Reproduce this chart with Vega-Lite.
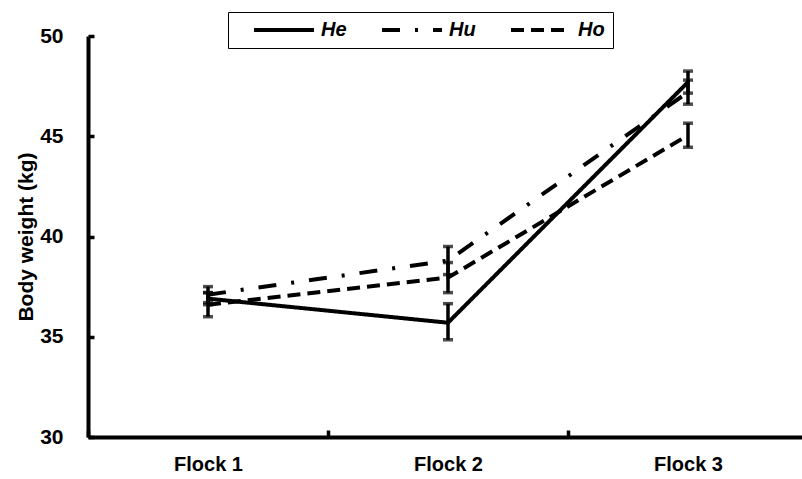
{
  "$schema": "https://vega.github.io/schema/vega-lite/v6.json",
  "width": 720,
  "height": 401,
  "autosize": {"type": "none"},
  "padding": {"left": 88, "top": 36, "right": 0, "bottom": 42},
  "background": "white",
  "config": {"view": {"stroke": null}, "font": "Liberation Sans"},
  "data": {
    "values": [
      {"flock": "Flock 1", "group": "He", "mean": 36.9, "lo": 36.6, "hi": 37.2},
      {"flock": "Flock 2", "group": "He", "mean": 35.7, "lo": 34.85, "hi": 36.65},
      {"flock": "Flock 3", "group": "He", "mean": 47.7, "lo": 47.15, "hi": 48.25},
      {"flock": "Flock 1", "group": "Hu", "mean": 37.1, "lo": 36.7, "hi": 37.5},
      {"flock": "Flock 2", "group": "Hu", "mean": 38.8, "lo": 38.1, "hi": 39.5},
      {"flock": "Flock 3", "group": "Hu", "mean": 47.2, "lo": 46.6, "hi": 47.8},
      {"flock": "Flock 1", "group": "Ho", "mean": 36.6, "lo": 36.0, "hi": 37.2},
      {"flock": "Flock 2", "group": "Ho", "mean": 37.95, "lo": 37.2, "hi": 38.7},
      {"flock": "Flock 3", "group": "Ho", "mean": 45.05, "lo": 44.45, "hi": 45.65}
    ]
  },
  "encoding": {
    "x": {
      "field": "flock",
      "type": "nominal",
      "sort": ["Flock 1", "Flock 2", "Flock 3"],
      "scale": {"paddingInner": 0, "paddingOuter": 0},
      "axis": {
        "title": null,
        "labelAngle": 0,
        "labelFontSize": 20,
        "labelFontWeight": "bold",
        "labelColor": "black",
        "labelPadding": 24,
        "tickBand": "extent",
        "tickSize": -7,
        "tickWidth": 3.5,
        "tickColor": "black",
        "domainColor": "black",
        "domainWidth": 4
      }
    }
  },
  "layer": [
    {
      "mark": {"type": "line", "color": "black", "strokeWidth": 4},
      "encoding": {
        "y": {
          "field": "mean",
          "type": "quantitative",
          "scale": {"domain": [30, 50], "nice": false, "zero": false},
          "axis": {
            "values": [30, 35, 40, 45, 50],
            "title": "Body weight (kg)",
            "titleFontSize": 21,
            "titleFontWeight": "bold",
            "titleColor": "black",
            "titlePadding": 3,
            "labelFontSize": 21,
            "labelFontWeight": "bold",
            "labelColor": "black",
            "labelPadding": 31,
            "tickSize": -6,
            "tickWidth": 3.5,
            "tickColor": "black",
            "domainColor": "black",
            "domainWidth": 4,
            "grid": false
          }
        },
        "strokeDash": {
          "field": "group",
          "type": "nominal",
          "scale": {"domain": ["He", "Hu", "Ho"], "range": [[1, 0], [18, 15, 3, 15], [13, 7]]},
          "legend": {
            "orient": "none",
            "legendX": 140,
            "legendY": -24,
            "direction": "horizontal",
            "title": null,
            "strokeColor": "black",
            "padding": 8,
            "clipHeight": 20,
            "symbolType": "stroke",
            "symbolSize": 3600,
            "symbolStrokeWidth": 4,
            "symbolStrokeColor": "black",
            "labelFontSize": 20,
            "labelFontWeight": "bold",
            "labelFontStyle": "italic",
            "labelColor": "black",
            "labelOffset": 5,
            "columnPadding": 17,
            "symbolOffset": 16
          }
        }
      }
    },
    {
      "mark": {"type": "rule", "color": "black", "strokeWidth": 3.5},
      "encoding": {
        "y": {"field": "lo", "type": "quantitative"},
        "y2": {"field": "hi"}
      }
    },
    {
      "mark": {"type": "tick", "color": "black", "size": 10, "thickness": 3.5},
      "encoding": {"y": {"field": "lo", "type": "quantitative"}}
    },
    {
      "mark": {"type": "tick", "color": "black", "size": 10, "thickness": 3.5},
      "encoding": {"y": {"field": "hi", "type": "quantitative"}}
    }
  ]
}
